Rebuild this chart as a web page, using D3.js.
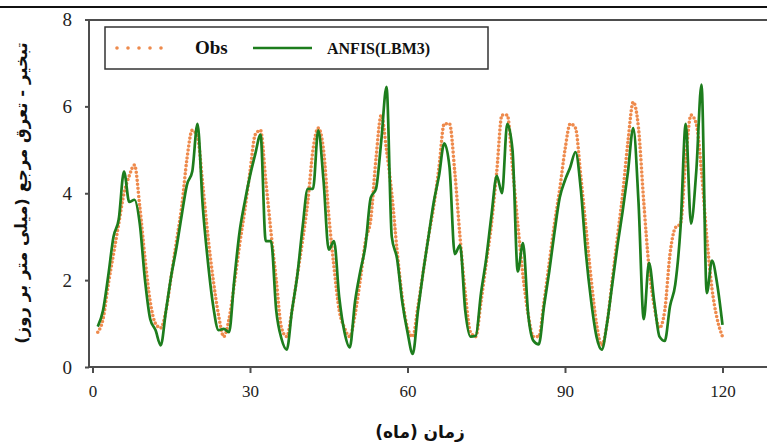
<!DOCTYPE html>
<html>
<head>
<meta charset="utf-8">
<title>ET0 - ANFIS(LBM3)</title>
<script src="https://d3js.org/d3.v7.min.js"></script>
<style>
  body { margin: 0; background: #fff; }
  svg { display: block; }
</style>
</head>
<body>
<svg id="chart"></svg>
<script>

// observed monthly values (mm/day)
let obs = [
  0.8, 1.1, 1.9, 2.6, 3.3, 4.0, 4.4, 4.65, 3.7, 2.5, 1.5, 1.0,
  0.9, 1.3, 2.1, 2.9, 3.7, 4.8, 5.45, 5.3, 4.2, 3.0, 2.0, 1.2,
  0.7, 1.1, 1.9, 2.8, 3.6, 4.5, 5.35, 5.45, 4.3, 3.1, 2.0, 0.9,
  0.7, 1.3, 2.1, 2.9, 3.8, 5.0, 5.5, 5.0, 3.5, 2.3, 1.3, 0.9,
  0.7, 1.2, 2.0, 2.9, 3.4, 4.8, 5.8, 5.0, 4.0, 2.7, 1.6, 0.9,
  0.7, 1.4, 2.2, 3.0, 3.7, 4.6, 5.6, 5.6, 4.5, 3.0, 1.7, 0.8,
  0.7, 1.5, 2.4, 3.3, 4.5, 5.8, 5.8, 4.6, 3.3, 2.1, 1.2, 0.7,
  0.7, 1.5, 2.4, 3.3, 4.1, 5.0, 5.6, 5.5, 4.4, 3.2, 2.0, 1.0,
  0.5, 1.0, 2.0, 3.0, 4.0, 5.2, 6.1, 5.5, 3.8, 2.3, 1.4, 0.9,
  1.3, 2.6, 3.2, 3.3, 4.8, 5.8, 5.6, 4.5, 3.0, 1.8, 1.1, 0.7
];

// ANFIS(LBM3) model output
let anfis = [
  0.93, 1.3, 2.1, 3.0, 3.4, 4.5, 3.8, 3.85, 3.3, 2.0, 1.1, 0.85,
  0.5, 1.3, 2.1, 2.75, 3.5, 4.2, 4.5, 5.6, 3.7, 2.4, 1.4, 0.85,
  0.88, 0.8, 2.0, 3.1, 3.8, 4.4, 4.9, 5.35, 2.9, 2.9, 1.3, 0.65,
  0.4, 1.3, 2.1, 3.2, 4.1, 4.1, 5.45, 4.3, 2.7, 2.9, 1.6, 0.8,
  0.45, 1.5, 2.2, 2.8, 3.9, 4.1, 5.2, 6.45, 3.0, 2.5, 1.5, 0.8,
  0.3, 1.3, 2.2, 3.0, 3.8, 4.4, 5.15, 4.6, 2.6, 2.8, 1.3, 0.7,
  0.72, 1.7, 2.5, 3.5, 4.4, 4.0, 5.6, 5.0, 2.2, 2.85, 1.2, 0.6,
  0.52, 1.4, 2.2, 3.1, 3.9, 4.3, 4.6, 4.95, 4.1, 2.6, 1.5, 0.7,
  0.4, 1.0, 1.9, 2.8, 3.6, 4.5, 5.5, 3.8, 1.1, 2.4, 1.5, 0.7,
  0.6, 1.4, 1.9, 3.2, 5.6, 3.3, 4.5, 6.5, 1.7, 2.45, 1.9, 0.97
];

let months = obs.map((d, i) => i + 1);

let xTicks = [0, 30, 60, 90, 120];
let yTicks = [0, 2, 4, 6, 8];

let seriesNames = ['Obs', 'ANFIS(LBM3)'];
let yLabel = 'تبخیر - تعرق مرجع (میلی متر بر روز)';
let xLabel = 'زمان  (ماه)';

// configuration of svg/plot area
let config = { svg: {}, plot: {} };
config.svg.width = 767;
config.svg.height = 446;
config.plot.left = 89;
config.plot.top = 20;
config.plot.bottom = 367;

let orange = '#ee8a4c';
let green = '#1d7d1d';
let axisColor = '#4d4d4d';
let serif = '"Liberation Serif", "Times New Roman", serif';

let svg = d3.select('#chart')
  .attr('width', config.svg.width)
  .attr('height', config.svg.height);

let x = d3.scaleLinear().domain([0, 120]).range([92.5, 722.5]);
let y = d3.scaleLinear().domain([0, 8]).range([config.plot.bottom, 19.5]);

// black rule across the top of the figure
svg.append('line')
  .attr('x1', 0).attr('x2', config.svg.width)
  .attr('y1', 7).attr('y2', 7)
  .attr('stroke', '#111').attr('stroke-width', 2);

// frame lines
let frame = svg.append('g').attr('stroke', axisColor).attr('stroke-width', 2);
frame.append('line')
  .attr('x1', config.plot.left).attr('x2', config.svg.width)
  .attr('y1', config.plot.bottom).attr('y2', config.plot.bottom);
frame.append('line')
  .attr('x1', config.plot.left).attr('x2', config.svg.width)
  .attr('y1', config.plot.top).attr('y2', config.plot.top);
frame.append('line')
  .attr('x1', config.plot.left).attr('x2', config.plot.left)
  .attr('y1', config.plot.top - 1).attr('y2', config.plot.bottom + 1);

// axes
let xAxis = svg.append('g')
  .attr('transform', translate(0, config.plot.bottom))
  .call(d3.axisBottom(x).tickValues(xTicks).tickSize(6).tickFormat(d3.format('d')));
xAxis.select('.domain').remove();
xAxis.selectAll('line').attr('stroke', axisColor).attr('stroke-width', 2);
xAxis.selectAll('text')
  .attr('y', 30).attr('dy', null)
  .attr('fill', '#222')
  .style('font-family', serif).style('font-size', '17px');

let yAxis = svg.append('g')
  .attr('transform', translate(config.plot.left, 0))
  .call(d3.axisLeft(y).tickValues(yTicks).tickSize(4).tickPadding(13));
yAxis.select('.domain').remove();
yAxis.selectAll('line').attr('stroke', axisColor).attr('stroke-width', 2);
yAxis.selectAll('text')
  .attr('fill', '#222')
  .style('font-family', serif).style('font-size', '19px');

// lines
let monthLine = d3.line()
  .x((d, i) => x(months[i]))
  .y(d => y(d))
  .curve(d3.curveMonotoneX);

svg.append('path')
  .datum(obs)
  .attr('fill', 'none')
  .attr('stroke', orange)
  .attr('stroke-width', 3.6)
  .attr('stroke-linecap', 'round')
  .attr('stroke-dasharray', '0,4')
  .attr('d', monthLine);

svg.append('path')
  .datum(anfis)
  .attr('fill', 'none')
  .attr('stroke', green)
  .attr('stroke-width', 2.7)
  .attr('stroke-linejoin', 'round')
  .attr('d', monthLine);

// legend
let legend = svg.append('g').attr('transform', translate(105, 27));
legend.append('rect')
  .attr('width', 383).attr('height', 42)
  .attr('fill', '#fff')
  .attr('stroke', '#333').attr('stroke-width', 1.5);
legend.append('line')
  .attr('x1', 12).attr('x2', 67).attr('y1', 21).attr('y2', 21)
  .attr('stroke', orange).attr('stroke-width', 3.6)
  .attr('stroke-linecap', 'round').attr('stroke-dasharray', '0,11');
legend.append('text')
  .attr('x', 90).attr('y', 27)
  .style('font-family', serif).style('font-size', '19px').style('font-weight', 'bold')
  .attr('fill', '#111')
  .text(seriesNames[0]);
legend.append('line')
  .attr('x1', 148).attr('x2', 207).attr('y1', 21).attr('y2', 21)
  .attr('stroke', green).attr('stroke-width', 2.7);
legend.append('text')
  .attr('x', 222).attr('y', 27)
  .style('font-family', serif).style('font-size', '16px').style('font-weight', 'bold')
  .attr('fill', '#111')
  .text(seriesNames[1]);

// axis titles
svg.append('text')
  .attr('transform', translate(27, 193) + ' rotate(-90)')
  .attr('text-anchor', 'middle')
  .attr('direction', 'rtl')
  .style('font-family', '"DejaVu Sans", sans-serif')
  .style('font-size', '16.5px')
  .style('font-weight', 'bold')
  .attr('fill', '#111')
  .text(yLabel);

svg.append('text')
  .attr('x', 420).attr('y', 438)
  .attr('text-anchor', 'middle')
  .attr('direction', 'rtl')
  .style('font-family', '"DejaVu Sans", sans-serif')
  .style('font-size', '17px')
  .style('font-weight', 'bold')
  .attr('fill', '#111')
  .text(xLabel);

// helper method to make translating easier
function translate(x, y) {
  return 'translate(' + x + ',' + y + ')';
}
</script>
</body>
</html>
